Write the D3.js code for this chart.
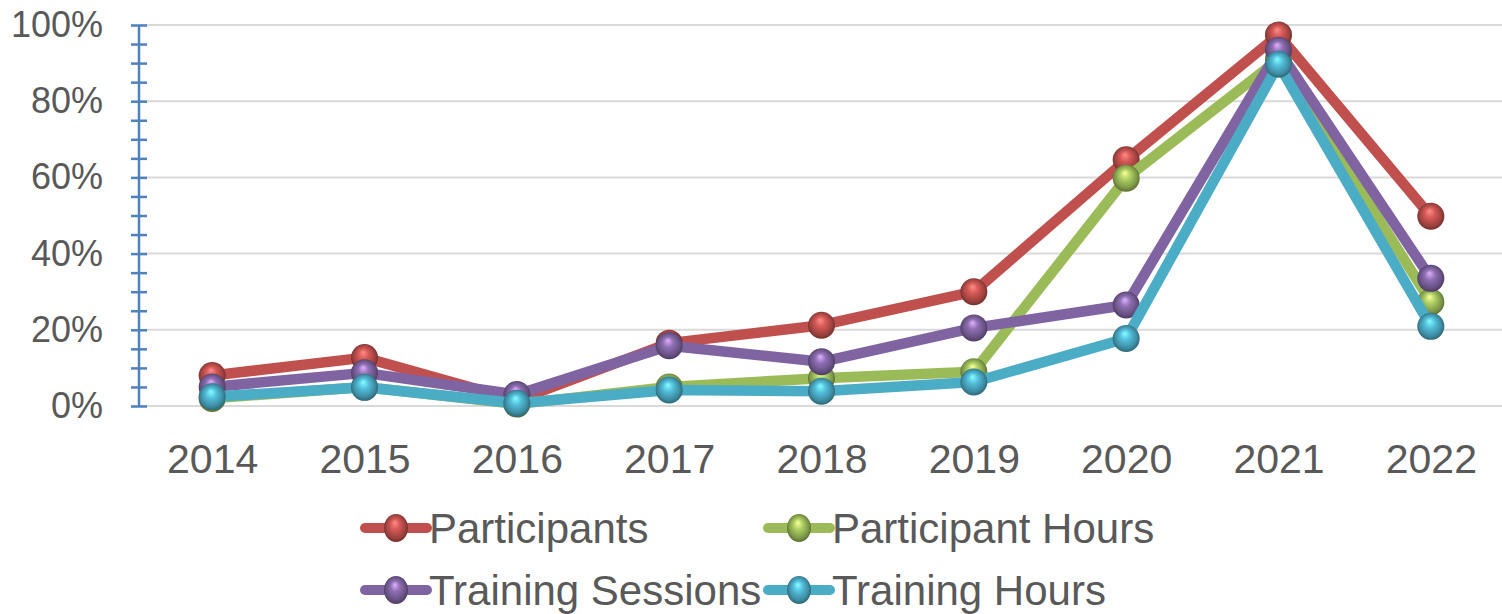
<!DOCTYPE html>
<html lang="en">
<head>
<meta charset="utf-8">
<title>Training trends 2014-2022</title>
<style>
  body { margin: 0; background: #fff; }
  svg { display: block; font-family: "Liberation Sans", Arial, sans-serif; }
  .grid line { stroke: #d9d9d9; stroke-width: 2; }
  .tick text { fill: #595959; }
</style>
<script src="https://d3js.org/d3.v7.min.js"></script>
</head>
<body>
<svg id="chart" width="1502" height="614"></svg>
<script>

// values, share of the peak (0..1)
var years = ["2014", "2015", "2016", "2017", "2018", "2019", "2020", "2021", "2022"];
var participants     = [0.080, 0.127, 0.015, 0.165, 0.212, 0.300, 0.646, 0.974, 0.498];
var participantHours = [0.020, 0.050, 0.005, 0.050, 0.073, 0.090, 0.598, 0.910, 0.273];
var trainingSessions = [0.050, 0.087, 0.030, 0.158, 0.116, 0.205, 0.265, 0.934, 0.335];
var trainingHours    = [0.024, 0.049, 0.007, 0.042, 0.039, 0.063, 0.177, 0.897, 0.209];
var seriesNames  = ["Participants", "Participant Hours", "Training Sessions", "Training Hours"];
var seriesColors = ["#c0504d", "#9bbb59", "#8064a2", "#4bacc6"];
var yTicks = [0, 0.2, 0.4, 0.6, 0.8, 1.0];

var series = [participants, participantHours, trainingSessions, trainingHours].map(function(v, i) {
  return { name: seriesNames[i], color: seriesColors[i], values: v };
});

var svg = d3.select("#chart");
var axisX = 139, plotTop = 25, plotBottom = 406;

var x = d3.scalePoint().domain(years).range([136, 1507]).padding(0.5);
var y = d3.scaleLinear().domain([0, 1]).range([plotBottom, plotTop]);

// sphere gradients
var defs = svg.append("defs");
series.forEach(function(s, i) {
  var g = defs.append("radialGradient")
      .attr("id", "ball" + i)
      .attr("cx", "50%").attr("cy", "50%").attr("r", "55%")
      .attr("fx", "45%").attr("fy", "30%");
  var c = d3.color(s.color);
  g.append("stop").attr("offset", "0%").attr("stop-color", c.brighter(1.6));
  g.append("stop").attr("offset", "35%").attr("stop-color", c.brighter(0.3));
  g.append("stop").attr("offset", "75%").attr("stop-color", c.darker(0.6));
  g.append("stop").attr("offset", "100%").attr("stop-color", c.darker(1.8));
});

// gridlines
svg.append("g").attr("class", "grid")
  .selectAll("line").data(yTicks).enter().append("line")
    .attr("x1", axisX).attr("x2", 1502)
    .attr("y1", function(d) { return y(d); })
    .attr("y2", function(d) { return y(d); });

// y axis with minor ticks crossing the line
var yMinor = svg.append("g").attr("transform", "translate(" + axisX + ",0)")
  .call(d3.axisLeft(y).tickValues(d3.range(0, 1.0001, 0.05)).tickSize(8).tickFormat(""));
yMinor.select(".domain").attr("stroke", "#4f81bd").attr("stroke-width", 2.5)
  .attr("d", "M0," + y(0) + "V" + y(1));
yMinor.selectAll(".tick line").attr("stroke", "#4f81bd").attr("stroke-width", 2.5)
  .attr("x1", -8).attr("x2", 8);

var yLab = svg.append("g").attr("transform", "translate(" + axisX + ",0)")
  .call(d3.axisLeft(y).tickValues(yTicks).tickSize(0).tickPadding(36).tickFormat(d3.format(".0%")));
yLab.select(".domain").remove();
yLab.selectAll("text").attr("font-size", 36).attr("font-family", "Liberation Sans, Arial, sans-serif");

// x axis labels
var xAx = svg.append("g").attr("transform", "translate(0," + plotBottom + ")")
  .call(d3.axisBottom(x).tickSize(0).tickPadding(38));
xAx.select(".domain").remove();
xAx.selectAll("text").attr("font-size", 41).attr("font-family", "Liberation Sans, Arial, sans-serif");

// lines and markers
var line = d3.line()
  .x(function(d, i) { return x(years[i]); })
  .y(function(d) { return y(d); });

series.forEach(function(s, i) {
  var g = svg.append("g");
  g.append("path")
    .attr("d", line(s.values))
    .attr("fill", "none")
    .attr("stroke", s.color)
    .attr("stroke-width", 10.5)
    .attr("stroke-linejoin", "round");
  g.selectAll("circle").data(s.values).enter().append("circle")
    .attr("cx", function(d, j) { return x(years[j]); })
    .attr("cy", function(d) { return y(d); })
    .attr("r", 13.5)
    .attr("fill", "url(#ball" + i + ")");
});

// legend
var legendPos = [[365, 528], [768, 528], [365, 590], [768, 590]];
series.forEach(function(s, i) {
  var p = legendPos[i];
  var g = svg.append("g").attr("transform", "translate(" + p[0] + "," + p[1] + ")");
  g.append("line").attr("x1", 0).attr("x2", 62).attr("y1", 0).attr("y2", 0)
    .attr("stroke", s.color).attr("stroke-width", 10).attr("stroke-linecap", "round");
  g.append("ellipse").attr("cx", 31).attr("cy", 0).attr("rx", 12).attr("ry", 14)
    .attr("fill", "url(#ball" + i + ")");
  g.append("text").attr("x", 64).attr("y", 15)
    .attr("font-size", 42).attr("fill", "#595959")
    .text(s.name);
});

</script>
</body>
</html>
